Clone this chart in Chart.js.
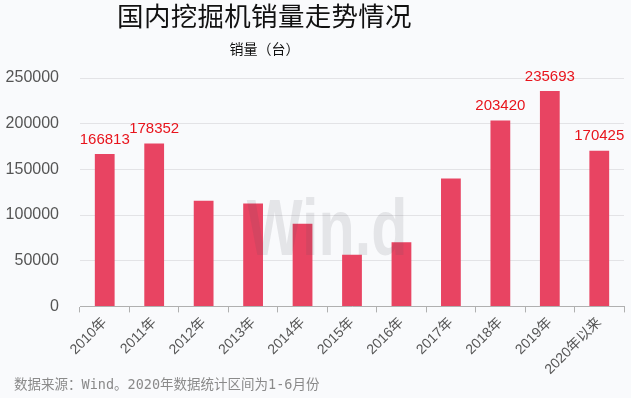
<!DOCTYPE html>
<html>
<head>
<meta charset="utf-8">
<script src="https://cdn.jsdelivr.net/npm/chart.js@4.4.1/dist/chart.umd.min.js"></script>
<style>
    html, body { margin: 0; padding: 0; background: #f9fafc; }
    #wrap { position: relative; width: 631px; height: 398px; overflow: hidden; }
    #chart { position: absolute; left: 0; top: 0; }
    .title { position: absolute; left: 0; width: 529px; text-align: center; color: #111;
             font-family: "Noto Sans CJK SC", sans-serif; white-space: nowrap; }
    #t1 { top: -5px; font-size: 26.5px; letter-spacing: 0.3px; }
    #t2 { top: 38px; font-size: 14px; }
    #foot { position: absolute; left: 14px; top: 373px; font-size: 13.5px; color: #8a8a8a;
            font-family: "DejaVu Sans Mono", "Noto Sans CJK SC", monospace; white-space: nowrap; }
</style>
</head>
<body>
<div id="wrap">
    <canvas id="chart" width="631" height="398"></canvas>
    <div class="title" id="t1">国内挖掘机销量走势情况</div>
    <div class="title" id="t2">销量（台）</div>
    <div id="foot">数据来源：Wind。2020年数据统计区间为1-6月份</div>
</div>
<script>
        // data
        const years = ['2010年', '2011年', '2012年', '2013年', '2014年', '2015年',
                       '2016年', '2017年', '2018年', '2019年', '2020年以来'];
        const sales = [166813, 178352, 115600, 112700, 90500, 56500,
                       70200, 140000, 203420, 235693, 170425];
        const showLabel = [true, true, false, false, false, false,
                           false, false, true, true, true];
        const yTicks = [0, 50000, 100000, 150000, 200000, 250000];

        // value labels above some bars
        const valueLabels = {
            id: 'valueLabels',
            afterDatasetsDraw(chart) {
                const ctx = chart.ctx;
                const meta = chart.getDatasetMeta(0);
                ctx.save();
                ctx.font = '15px "Liberation Sans", Arial, sans-serif';
                ctx.fillStyle = '#e8141c';
                ctx.textAlign = 'center';
                ctx.textBaseline = 'bottom';
                meta.data.forEach((bar, i) => {
                    if (!showLabel[i]) return;
                    ctx.fillText(String(sales[i]), bar.x, bar.y - 7);
                });
                ctx.restore();
            }
        };

        // faint "Win.d" watermark over the plot
        const watermark = {
            id: 'watermark',
            afterDatasetsDraw(chart) {
                const a = chart.chartArea;
                const ctx = chart.ctx;
                ctx.save();
                ctx.translate((a.left + a.right) / 2 - 25, a.top + 177);
                ctx.scale(0.74, 1);
                ctx.font = 'bold 80px "Liberation Sans", Arial, sans-serif';
                ctx.fillStyle = 'rgba(80, 80, 90, 0.12)';
                ctx.textAlign = 'center';
                ctx.textBaseline = 'alphabetic';
                ctx.fillText('Win.d', 0, 0);
                ctx.restore();
            }
        };

        const ctx = document.getElementById('chart').getContext('2d');
        new Chart(ctx, {
            type: 'bar',
            data: {
                labels: years,
                datasets: [{
                    label: '销量',
                    data: sales,
                    backgroundColor: '#e84462',
                    borderWidth: 0,
                    barPercentage: 0.8,
                    categoryPercentage: 0.5
                }]
            },
            options: {
                responsive: false,
                animation: false,
                layout: { padding: { top: 78, right: 7, left: 4, bottom: 18 } },
                scales: {
                    x: {
                        offset: true,
                        afterFit: axis => { axis.paddingLeft = 0; axis.paddingRight = 0; },
                        grid: {
                            display: true,
                            offset: true,
                            drawOnChartArea: false,
                            drawTicks: true,
                            tickLength: 6,
                            color: '#b0b0b0'
                        },
                        border: { display: true, color: '#b0b0b0', width: 1 },
                        ticks: {
                            minRotation: 45,
                            maxRotation: 45,
                            padding: 2,
                            color: '#555',
                            font: { family: '"Liberation Sans", "Noto Sans CJK SC", sans-serif', size: 14 }
                        }
                    },
                    y: {
                        min: 0,
                        max: 250000,
                        afterBuildTicks: axis => { axis.ticks = yTicks.map(v => ({ value: v })); },
                        afterFit: axis => { axis.width = 76; },
                        grid: { color: '#e3e3e6', drawTicks: false },
                        border: { display: false },
                        ticks: {
                            padding: 21,
                            color: '#555',
                            font: { family: '"Liberation Sans", Arial, sans-serif', size: 16 },
                            callback: v => String(v)
                        }
                    }
                },
                plugins: {
                    legend: { display: false },
                    title: { display: false },
                    tooltip: { enabled: false }
                }
            },
            plugins: [watermark, valueLabels]
        });
</script>
</body>
</html>
